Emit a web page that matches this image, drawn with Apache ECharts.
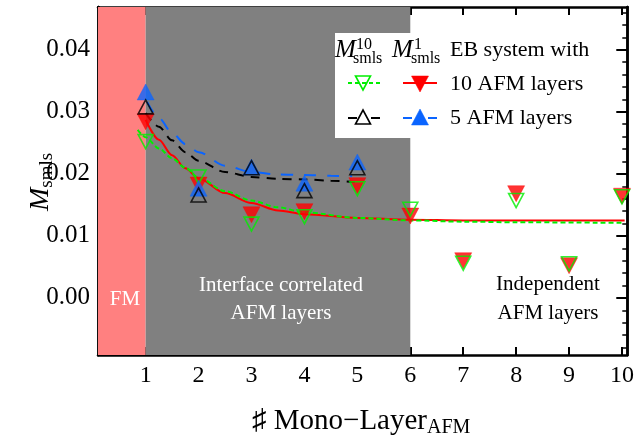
<!DOCTYPE html>
<html><head><meta charset="utf-8">
<script src="https://cdn.jsdelivr.net/npm/echarts@6/dist/echarts.min.js"></script>
<style>html,body{margin:0;padding:0;background:#fff}#c{width:637px;height:440px}</style>
</head><body><div id="c"></div>
<script>
// ---- data ----
const xTicks = [1, 2, 3, 4, 5, 6, 7, 8, 9, 10];
const yTicks = [0.00, 0.01, 0.02, 0.03, 0.04];
const yMinorTicks = [-0.008, -0.006, -0.004, -0.002, 0.002, 0.004, 0.006, 0.008,
  0.012, 0.014, 0.016, 0.018, 0.022, 0.024, 0.026, 0.028, 0.032, 0.034, 0.036, 0.038,
  0.042, 0.044, 0.046];
const fmRange = [0.1, 1];
const interfaceRange = [1, 6];

const layers10 = [1, 2, 3, 4, 5, 6, 7, 8, 9, 10];
const layers5 = [1, 2, 3, 4, 5];
const m10_10afm = [0.0252, 0.0195, 0.0119, 0.0131, 0.0176, 0.0143, 0.0056, 0.0157, 0.0055, 0.0163];
const m1_10afm  = [0.0284, 0.0182, 0.0134, 0.0139, 0.0181, 0.0132, 0.0060, 0.0168, 0.0052, 0.0164];
const m10_5afm  = [0.0308, 0.0166, 0.0210, 0.0173, 0.0210];
const m1_5afm   = [0.0332, 0.0177, 0.0211, 0.0185, 0.0219];

const fitGreenX = [0.85, 1, 1.25, 1.5, 1.75, 2, 2.5, 3, 3.5, 4, 5, 6, 7, 8, 10.05];
const fitGreenY = [0.0271, 0.0259, 0.0241, 0.0225, 0.0210, 0.0194, 0.0172, 0.0157, 0.0146, 0.0138, 0.0129, 0.0125, 0.0123, 0.0122, 0.0121];
const fitRedX = [1, 1.25, 1.5, 1.75, 2, 2.5, 3, 3.5, 4, 5, 6, 7, 8, 10.05];
const fitRedY = [0.0287, 0.0255, 0.0230, 0.0209, 0.0193, 0.0169, 0.0153, 0.0141, 0.0135, 0.0129, 0.0126, 0.0125, 0.0125, 0.0125];
const fitBlackX = [1, 1.25, 1.5, 1.75, 2, 2.5, 3, 3.5, 4, 4.5, 4.95];
const fitBlackY = [0.0298, 0.0276, 0.0254, 0.0235, 0.0221, 0.0203, 0.0195, 0.0192, 0.0191, 0.0189, 0.0187];
const fitBlueX = [1.03, 1.25, 1.5, 1.75, 2, 2.5, 3, 3.5, 4, 4.5, 4.9];
const fitBlueY = [0.0316, 0.0290, 0.0266, 0.0248, 0.0235, 0.0213, 0.0203, 0.0199, 0.0198, 0.0197, 0.0196];

// ---- styles ----
const SERIF = '"Liberation Serif","Times New Roman",serif';
const GREEN = '#00ee00', RED = '#ff0000', BLUE = '#0a64ff', BLACK = '#000000';
const zip = (xs, ys) => xs.map((x, i) => [x, ys[i]]);

const X_MIN = 0.1, X_MAX = 10.1, Y_MIN = -0.0092, Y_MAX = 0.0469;

function xAx(pos, labels) {
  return {
    type: 'value', min: X_MIN, max: X_MAX, position: pos,
    axisLine: { show: true, onZero: false, lineStyle: { color: BLACK, width: 2.5 } },
    axisTick: { show: true, inside: true, length: 8, customValues: xTicks, lineStyle: { color: BLACK, width: 2 } },
    axisLabel: { show: labels, customValues: xTicks, color: BLACK, fontFamily: SERIF, fontSize: 24, margin: 9 },
    splitLine: { show: false }
  };
}
function yAx(pos, major, labels) {
  return {
    type: 'value', min: Y_MIN, max: Y_MAX, position: pos,
    axisLine: { show: true, onZero: false, lineStyle: { color: BLACK, width: 2.5 } },
    axisTick: { show: true, inside: true, length: major ? 11 : 5,
      customValues: major ? yTicks : yMinorTicks, lineStyle: { color: BLACK, width: major ? 2 : 1.5 } },
    axisLabel: { show: labels, customValues: yTicks, color: BLACK, fontFamily: SERIF, fontSize: 25, margin: 8,
      formatter: v => v.toFixed(2) },
    splitLine: { show: false }
  };
}

function fitLine(name, xs, ys, color, dash, width) {
  return { type: 'line', name, data: zip(xs, ys), showSymbol: false, symbol: 'none', smooth: 0.3,
    smoothMonotone: 'x', lineStyle: { color, width: width || 2, type: dash }, silent: true, z: 2 };
}
function pts(name, xs, ys, color, filled, down, z) {
  return { type: 'scatter', name, data: zip(xs, ys), symbol: 'triangle', symbolRotate: down ? 180 : 0,
    symbolSize: filled ? [17, 16] : [15, 14],
    itemStyle: filled ? { color, borderColor: color, borderWidth: 0.5 }
                      : { color: 'rgba(0,0,0,0)', borderColor: color, borderWidth: 1.6 },
    silent: true, z: z };
}

const chart = echarts.init(document.getElementById('c'), null, { renderer: 'canvas' });

const legendX1 = 363, legendX2 = 420;
function tri(cx, cy, down, color, filled) {
  const w = filled ? 8.5 : 7.5, h = filled ? 8 : 7;
  const pts = down ? [[cx - w, cy - h], [cx + w, cy - h], [cx, cy + h]]
                   : [[cx - w, cy + h], [cx + w, cy + h], [cx, cy - h]];
  return { type: 'polygon', shape: { points: pts }, z: 101,
    style: filled ? { fill: color, stroke: color, lineWidth: 0.5 } : { fill: 'rgba(0,0,0,0)', stroke: color, lineWidth: 1.6 } };
}
function seg(x1, x2, y, color, dash) {
  return { type: 'line', shape: { x1, y1: y, x2, y2: y }, z: 101,
    style: { stroke: color, lineWidth: 2, lineDash: dash } };
}
function txt(x, y, text, opts) {
  return Object.assign({ type: 'text', x, y, z: 101,
    style: Object.assign({ text, fill: BLACK, font: '21px ' + SERIF, align: 'left', verticalAlign: 'middle' }, opts || {}) });
}

chart.setOption({
  animation: false,
  grid: { left: 98, right: 9, top: 7, bottom: 85, containLabel: false },
  xAxis: [xAx('bottom', true), xAx('top', false)],
  yAxis: [yAx('left', true, true), yAx('left', false, false), yAx('right', true, false), yAx('right', false, false)],
  series: [
    { type: 'line', data: [], silent: true, z: 1,
      markArea: { silent: true, data: [
        [{ xAxis: fmRange[0], itemStyle: { color: '#ff8080' } }, { xAxis: fmRange[1] }],
        [{ xAxis: interfaceRange[0], itemStyle: { color: '#808080' } }, { xAxis: interfaceRange[1] }]
      ] } },
    fitLine('fitRed', fitRedX, fitRedY, RED, 'solid', 2),
    fitLine('fitGreen', fitGreenX, fitGreenY, GREEN, [5, 3], 2),
    fitLine('fitBlack', fitBlackX, fitBlackY, BLACK, [9, 7], 2),
    fitLine('fitBlue', fitBlueX, fitBlueY, BLUE, [12, 11], 2),
    pts('M1 10 AFM', layers10, m1_10afm, RED, true, true, 3),
    pts('M10 10 AFM', layers10, m10_10afm, GREEN, false, true, 4),
    pts('M1 5 AFM', layers5, m1_5afm, BLUE, true, false, 5),
    pts('M10 5 AFM', layers5, m10_5afm, BLACK, false, false, 6)
  ],
  graphic: [
    // region labels
    txt(125, 299, 'FM', { fill: '#ffffff', align: 'center' }),
    txt(281, 285, 'Interface correlated', { fill: '#ffffff', align: 'center' }),
    txt(281, 313, 'AFM layers', { fill: '#ffffff', align: 'center' }),
    txt(548, 284, 'Independent', { align: 'center' }),
    txt(548, 313, 'AFM layers', { align: 'center' }),
    // legend box
    { type: 'rect', shape: { x: 335, y: 33, width: 280, height: 105 }, style: { fill: '#ffffff' }, z: 100 },
    txt(335, 50, 'M', { font: 'italic 25px ' + SERIF }),
    txt(356, 45, '10', { font: '16px ' + SERIF }),
    txt(353, 59, 'smls', { font: '16px ' + SERIF }),
    txt(392, 50, 'M', { font: 'italic 25px ' + SERIF }),
    txt(414, 45, '1', { font: '16px ' + SERIF }),
    txt(411, 59, 'smls', { font: '16px ' + SERIF }),
    txt(450, 50, 'EB system with', { font: '22px ' + SERIF }),
    seg(348, 380, 83, GREEN, [4, 3]), tri(legendX1, 83, true, GREEN, false),
    seg(403, 437, 83, RED, null), tri(legendX2, 84, true, RED, true),
    txt(450, 84, '10 AFM layers', { font: '22px ' + SERIF }),
    seg(348, 380, 118, BLACK, [9, 14]), tri(legendX1, 117, false, BLACK, false),
    seg(403, 437, 118, BLUE, [9, 16]), tri(legendX2, 117, false, BLUE, true),
    txt(450, 118, '5 AFM layers', { font: '22px ' + SERIF }),
    // axis titles
    { type: 'text', x: 252, y: 421, z: 101, style: {
        text: '{a|♯ Mono−Layer}{b|AFM}', align: 'left', verticalAlign: 'middle',
        rich: { a: { fontFamily: SERIF, fontSize: 29, color: BLACK, lineHeight: 34, verticalAlign: 'middle' },
                b: { fontFamily: SERIF, fontSize: 20, color: BLACK, lineHeight: 20, verticalAlign: 'bottom' } } } },
    { type: 'text', x: 41, y: 182, rotation: Math.PI / 2, z: 101, style: {
        text: '{m|M}{s|smls}', align: 'center', verticalAlign: 'middle',
        rich: { m: { fontFamily: SERIF, fontStyle: 'italic', fontSize: 28, color: BLACK, lineHeight: 32, verticalAlign: 'middle' },
                s: { fontFamily: SERIF, fontSize: 19, color: BLACK, lineHeight: 19, verticalAlign: 'bottom' } } } }
  ]
});
</script>
</body></html>
